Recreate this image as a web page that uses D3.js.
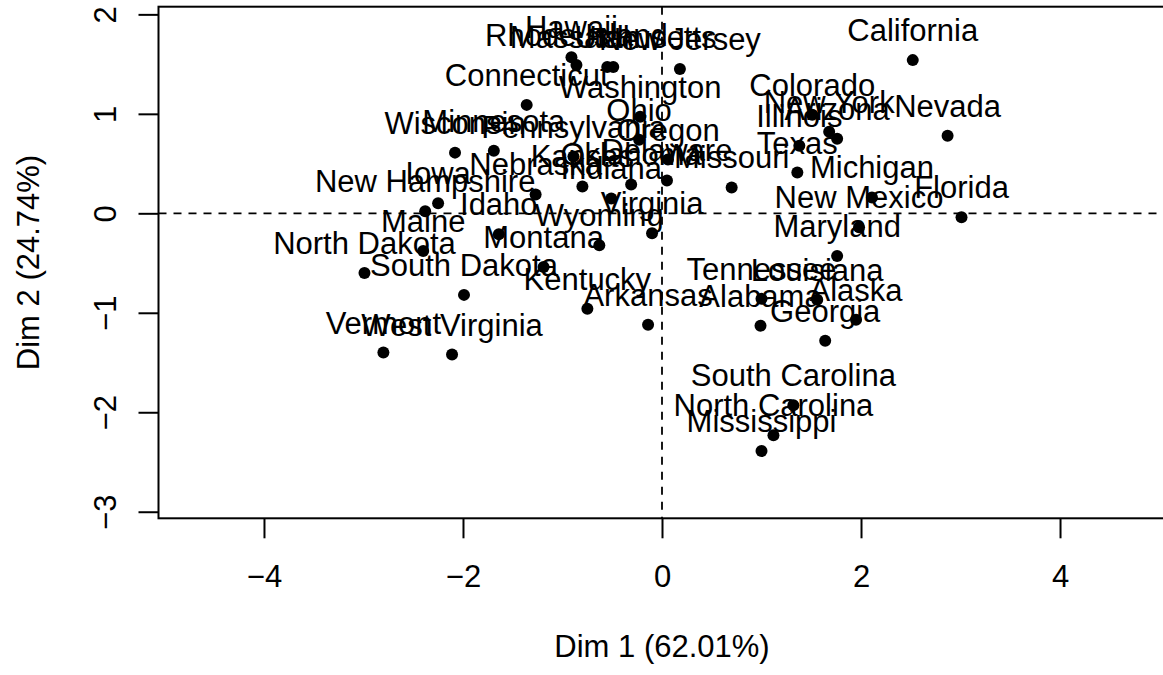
<!doctype html>
<html>
<head>
<meta charset="utf-8">
<style>
  body { margin: 0; background: #fff; }
  svg text { font-family: "Liberation Sans", Arial, sans-serif; fill: #000; }
</style>
<script src="https://d3js.org/d3.v7.min.js"></script>
</head>
<body>
<svg width="1163" height="675"></svg>
<script>
// individuals map of a PCA on the states, coordinates
var states = ["Alabama","Alaska","Arizona","Arkansas","California","Colorado","Connecticut",
  "Delaware","Florida","Georgia","Hawaii","Idaho","Illinois","Indiana","Iowa","Kansas",
  "Kentucky","Louisiana","Maine","Maryland","Massachusetts","Michigan","Minnesota",
  "Mississippi","Missouri","Montana","Nebraska","Nevada","New Hampshire","New Jersey",
  "New Mexico","New York","North Carolina","North Dakota","Ohio","Oklahoma","Oregon",
  "Pennsylvania","Rhode Island","South Carolina","South Dakota","Tennessee","Texas","Utah",
  "Vermont","Virginia","Washington","West Virginia","Wisconsin","Wyoming"];
var dim1 = [0.99, 1.95, 1.76, -0.14, 2.52, 1.51, -1.36, 0.05, 3.01, 1.64, -0.91, -1.64, 1.38,
  -0.51, -2.25, -0.80, -0.75, 1.56, -2.40, 1.76, -0.49, 2.11, -1.69, 1.00, 0.70, -1.19, -1.27,
  2.87, -2.38, 0.18, 1.98, 1.68, 1.12, -2.99, -0.23, -0.31, 0.06, -0.89, -0.86, 1.32, -1.99,
  1.00, 1.36, -0.55, -2.80, -0.10, -0.22, -2.11, -2.08, -0.63];
var dim2 = [-1.13, -1.07, 0.75, -1.12, 1.54, 0.99, 1.09, 0.33, -0.04, -1.28, 1.57, -0.21, 0.68,
  0.15, 0.10, 0.27, -0.96, -0.87, -0.38, -0.43, 1.47, 0.16, 0.63, -2.39, 0.26, -0.54, 0.19,
  0.78, 0.02, 1.45, -0.14, 0.82, -2.23, -0.60, 0.74, 0.29, 0.54, 0.57, 1.49, -1.93, -0.82,
  -0.86, 0.41, 1.47, -1.40, -0.20, 0.97, -1.42, 0.61, -0.32];
var xTicks = [-4, -2, 0, 2, 4];
var yTicks = [-3, -2, -1, 0, 1, 2];
var xTitle = "Dim 1 (62.01%)";
var yTitle = "Dim 2 (24.74%)";

var svg = d3.select("svg");
var fs = 31;
var fmt = d3.format("d");

var x = d3.scaleLinear().domain([-5.06, 5.06]).range([158.5, 1165.5]);
var y = d3.scaleLinear().domain([-3.066, 2.077]).range([518.3, 6.7]);

var pts = states.map(function(s, i) { return {name: s, x: dim1[i], y: dim2[i]}; });

// dashed zero lines
svg.append("line")
  .attr("x1", x(-5.06)).attr("x2", x(5.06))
  .attr("y1", y(0)).attr("y2", y(0))
  .attr("stroke", "#000").attr("stroke-width", 1.8).attr("stroke-dasharray", "8,7");
svg.append("line")
  .attr("x1", x(0)).attr("x2", x(0))
  .attr("y1", y(2.077)).attr("y2", y(-3.066))
  .attr("stroke", "#000").attr("stroke-width", 1.8).attr("stroke-dasharray", "8,7");

// box
svg.append("rect")
  .attr("x", x(-5.06)).attr("y", y(2.077))
  .attr("width", x(5.06) - x(-5.06)).attr("height", y(-3.066) - y(2.077))
  .attr("fill", "none").attr("stroke", "#000").attr("stroke-width", 2);

// axes
var gx = svg.append("g")
  .attr("transform", "translate(0," + y(-3.066) + ")")
  .call(d3.axisBottom(x).tickValues(xTicks).tickFormat(fmt).tickSize(20));
gx.select(".domain").remove();
gx.selectAll(".tick line").attr("stroke-width", 2);
gx.selectAll(".tick text")
  .attr("y", 69).attr("dy", null)
  .style("font-size", fs + "px");

var gy = svg.append("g")
  .attr("transform", "translate(" + x(-5.06) + ",0)")
  .call(d3.axisLeft(y).tickValues(yTicks).tickFormat(fmt).tickSize(20));
gy.select(".domain").remove();
gy.selectAll(".tick line").attr("stroke-width", 2);
gy.selectAll(".tick text")
  .attr("x", null).attr("dy", null)
  .attr("text-anchor", "middle")
  .attr("transform", "translate(-43,0) rotate(-90)")
  .style("font-size", fs + "px");

svg.selectAll(".tick text").attr("font-family", null).attr("fill", "#000");

// points and labels
svg.selectAll("circle.pt")
  .data(pts)
  .enter().append("circle")
  .attr("class", "pt")
  .attr("cx", function(d) { return x(d.x); })
  .attr("cy", function(d) { return y(d.y); })
  .attr("r", 6)
  .attr("fill", "#000");

svg.selectAll("text.lab")
  .data(pts)
  .enter().append("text")
  .attr("class", "lab")
  .attr("x", function(d) { return x(d.x); })
  .attr("y", function(d) { return y(d.y) - 19; })
  .attr("text-anchor", "middle")
  .style("font-size", fs + "px")
  .text(function(d) { return d.name; });

// axis titles
svg.append("text")
  .attr("x", (x(-5.06) + x(5.06)) / 2).attr("y", 657)
  .attr("text-anchor", "middle")
  .style("font-size", fs + "px")
  .text(xTitle);
svg.append("text")
  .attr("transform", "translate(39," + (y(-3.066) + y(2.077)) / 2 + ") rotate(-90)")
  .attr("text-anchor", "middle")
  .style("font-size", fs + "px")
  .text(yTitle);
</script>
</body>
</html>
